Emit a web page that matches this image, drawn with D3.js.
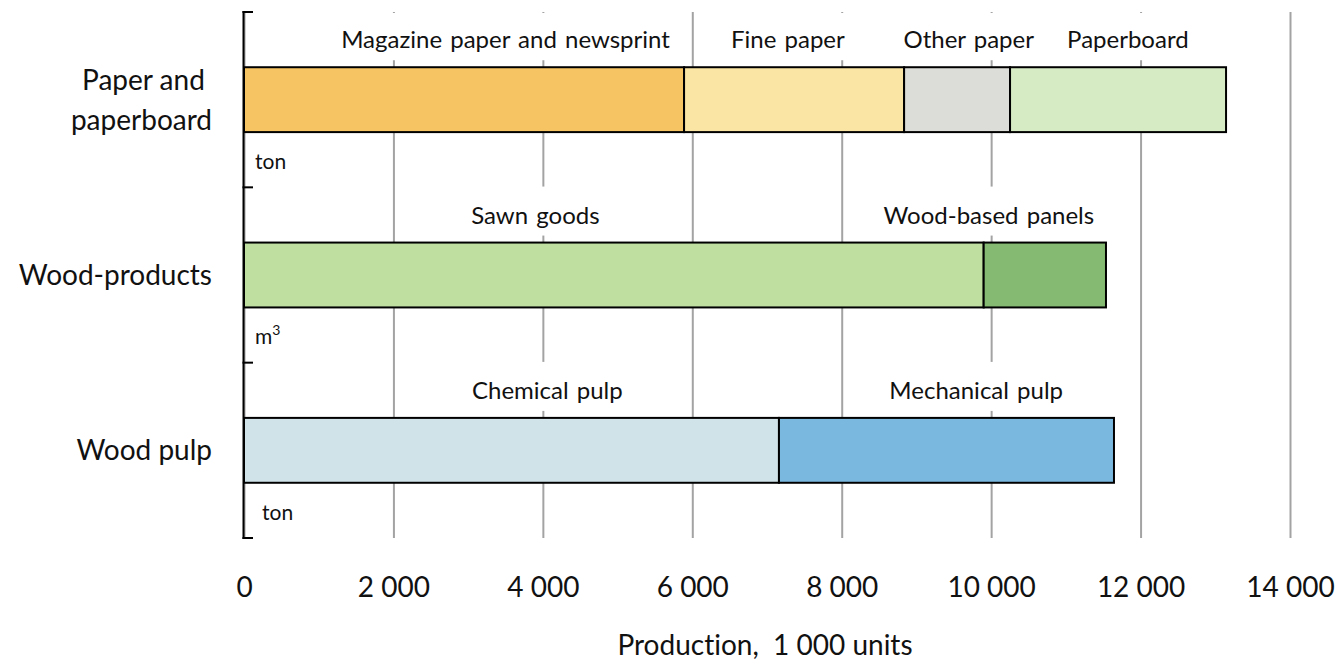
<!DOCTYPE html>
<html>
<head>
<meta charset="utf-8">
<script src="https://cdn.jsdelivr.net/npm/d3@7"></script>
<style>
  html, body { margin: 0; padding: 0; background: #fff; }
  svg { display: block; }
  text { font-family: Lato, "Open Sans", sans-serif; fill: #111; font-variant-ligatures: none; }
</style>
</head>
<body>
<svg id="chart" width="1339" height="662"></svg>
<script>
// ---- data ----
const categories = ["Paper and paperboard", "Wood-products", "Wood pulp"];
const categoryLines = [["Paper and ", "paperboard"], ["Wood-products"], ["Wood pulp"]];
const unitBase = ["ton", "m", "ton"];
const unitSup = ["", "3", ""];
const segmentNames = [
  ["Magazine paper and newsprint", "Fine paper", "Other paper", "Paperboard"],
  ["Sawn goods", "Wood-based panels"],
  ["Chemical pulp", "Mechanical pulp"]
];
const segmentValues = [
  [5890, 2945, 1418, 2891],
  [9900, 1637],
  [7160, 4484]
];
// label anchor (in production units) for each segment label
const labelAt = [
  [3500, 7280, 9700, 11830],
  [3900, 9970],
  [4060, 9800]
];
const xTicks = [0, 2000, 4000, 6000, 8000, 10000, 12000, 14000];
const xTickLabels = ["0", "2 000", "4 000", "6 000", "8 000", "10 000", "12 000", "14 000"];
const axisTitle = "Production,  1 000 units";

// ---- styles ----
const segmentColors = [
  ["#F6C463", "#FAE5A5", "#DCDDD9", "#D6EBC4"],
  ["#BEDFA0", "#84BA72"],
  ["#D0E3E9", "#7BB8DF"]
];

const svg = d3.select("#chart");
const plot = { left: 244, right: 1290, top: 12, bottom: 538 };

const x = d3.scaleLinear().domain([0, 14000]).range([plot.left, plot.right]);
const y = d3.scaleBand().domain(categories).range([plot.top, plot.bottom])
  .paddingInner(0.63).paddingOuter(0.315);
const step = y.step();
const bandTop = c => y(c) - step * 0.315;

// gridlines
const grid = svg.append("g")
  .attr("transform", `translate(0,${plot.bottom})`)
  .call(d3.axisBottom(x).tickValues(xTicks).tickSize(-(plot.bottom - plot.top)).tickFormat(""));
grid.select(".domain").remove();
grid.selectAll("line").attr("stroke", "#A3A3A3").attr("stroke-width", 2);

// x tick labels
const xAxis = svg.append("g")
  .attr("transform", `translate(0,${plot.bottom})`)
  .call(d3.axisBottom(x).tickValues(xTicks).tickSize(0).tickPadding(0)
    .tickFormat((d, i) => xTickLabels[i]));
xAxis.select(".domain").remove();
xAxis.selectAll("text")
  .attr("y", 0).attr("dy", 0)
  .attr("transform", "translate(0,59)")
  .style("font-family", "Lato, sans-serif")
  .style("font-size", "28px")
  .attr("fill", "#111");

// axis title
svg.append("text")
  .attr("x", (614 + 916) / 2).attr("y", 655)
  .attr("text-anchor", "middle")
  .attr("xml:space", "preserve")
  .style("font-size", "28px")
  .text(axisTitle);

// segment labels with white boxes (drawn before bars)
const labelLayer = svg.append("g");
const barLayer = svg.append("g");

categories.forEach((cat, ci) => {
  const vals = segmentValues[ci];
  const ends = Array.from(d3.cumsum(vals));
  const starts = [0, ...ends.slice(0, -1)];
  const barTop = y(cat);
  const bh = y.bandwidth();

  // labels
  segmentNames[ci].forEach((name, si) => {
    const baseline = barTop - 19;
    const g = labelLayer.append("g");
    const rect = g.append("rect").attr("fill", "#fff");
    const t = g.append("text")
      .attr("x", x(labelAt[ci][si]))
      .attr("y", baseline)
      .attr("text-anchor", "middle")
      .style("font-size", "24px")
      .style("word-spacing", "2px")
      .text(name);
    const bb = t.node().getBBox();
    const top = Math.max(plot.top + 1, baseline - 37);
    rect.attr("x", bb.x - 8).attr("width", bb.width + 16)
      .attr("y", top).attr("height", baseline + 12 - top);
  });

  // bars
  barLayer.selectAll(null)
    .data(vals.map((v, i) => ({ s: starts[i], e: ends[i], c: segmentColors[ci][i] })))
    .join("rect")
    .attr("x", d => x(d.s))
    .attr("width", d => x(d.e) - x(d.s))
    .attr("y", barTop)
    .attr("height", bh)
    .attr("fill", d => d.c)
    .attr("stroke", "#000")
    .attr("stroke-width", 2);

  // category labels
  const lines = categoryLines[ci];
  const cy = barTop + bh / 2;
  const lh = 40;
  const t = svg.append("text")
    .attr("text-anchor", "end")
    .attr("xml:space", "preserve")
    .style("font-size", "28px");
  lines.forEach((ln, li) => {
    t.append("tspan")
      .attr("x", 212)
      .attr("y", cy + 10 + (li - (lines.length - 1) / 2) * lh)
      .text(ln);
  });

  // unit labels
  const ut = svg.append("text")
    .attr("x", 255 + (ci === 2 ? 7 : 0))
    .attr("y", bandTop(cat) + 157)
    .style("font-size", "21px");
  ut.append("tspan").text(unitBase[ci]);
  if (unitSup[ci]) {
    ut.append("tspan").attr("dy", -9).style("font-size", "14px").text(unitSup[ci]);
  }
});

// left axis (band boundaries)
const yAxis = svg.append("g");
const bounds = categories.map(bandTop).concat([plot.bottom]);
yAxis.append("line")
  .attr("x1", plot.left - 0.5).attr("x2", plot.left - 0.5)
  .attr("y1", plot.top - 1).attr("y2", plot.bottom + 1)
  .attr("stroke", "#000").attr("stroke-width", 2);
yAxis.selectAll(null).data(bounds).join("line")
  .attr("x1", plot.left - 1.5).attr("x2", plot.left + 9)
  .attr("y1", d => d).attr("y2", d => d)
  .attr("stroke", "#000").attr("stroke-width", 2);
</script>
</body>
</html>
